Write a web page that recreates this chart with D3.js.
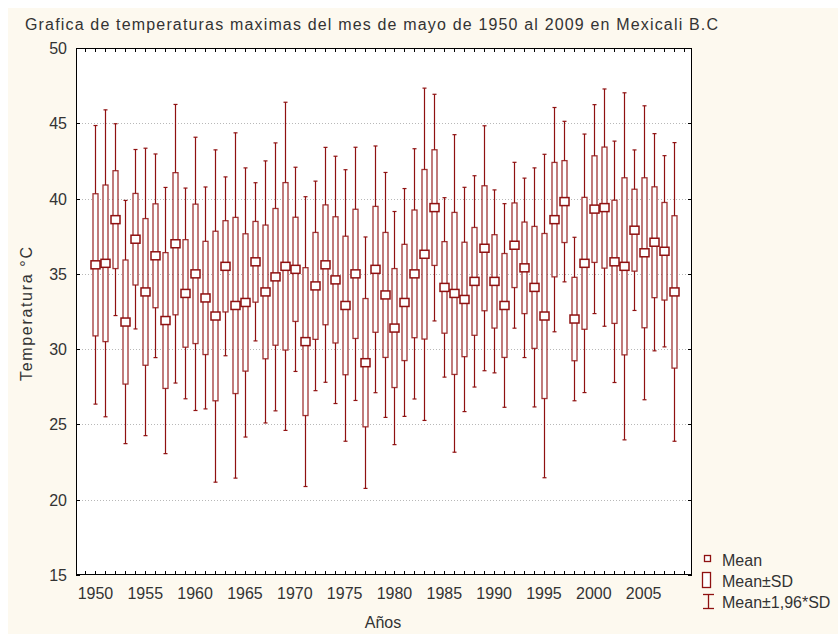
<!DOCTYPE html>
<html><head><meta charset="utf-8">
<script src="https://cdn.jsdelivr.net/npm/d3@7"></script>
<style>
html,body{margin:0;padding:0;background:#fff;}
svg text{font-family:"Liberation Sans",Arial,sans-serif;fill:#333;}
</style></head>
<body>
<svg id="chart" width="838" height="634"></svg>
<script>
const years = d3.range(1950, 2009);
const means = [35.6,35.7,38.6,31.8,37.3,33.8,36.2,31.9,37.0,33.7,
               35.0,33.4,32.2,35.5,32.9,33.1,35.8,33.8,34.8,35.5,
               35.3,30.5,34.2,35.6,34.6,32.9,35.0,29.1,35.3,33.6,
               31.4,33.1,35.0,36.3,39.4,34.1,33.7,33.3,34.5,36.7,
               34.5,32.9,36.9,35.4,34.1,32.2,38.6,39.8,32.0,35.7,
               39.3,39.4,35.8,35.5,37.9,36.4,37.1,36.5,33.8];
const sds   = [4.72,5.20,3.25,4.12,3.04,4.87,3.45,4.51,4.72,3.57,
               4.63,3.76,5.63,3.03,5.85,4.56,2.68,4.44,4.54,5.56,
               3.46,4.91,3.55,3.98,4.19,4.60,4.29,4.26,4.18,4.15,
               3.95,3.86,4.24,5.63,3.84,3.04,5.38,3.80,3.58,4.15,
               3.10,3.45,2.81,3.04,4.05,5.48,3.80,2.72,2.77,4.38,
               3.54,4.02,4.09,5.88,2.72,4.98,3.68,3.24,5.06];
const yTicks = [15,20,25,30,35,40,45,50];
const xTicks = [1950,1955,1960,1965,1970,1975,1980,1985,1990,1995,2000,2005];
const legendLabels = ["Mean","Mean\u00b1SD","Mean\u00b11,96*SD"];
const titleText = "Grafica de temperaturas maximas del mes de mayo de 1950 al 2009 en Mexicali B.C";

const red = "#8f1111";
const svg = d3.select("#chart");
svg.append("rect").attr("x",8).attr("y",8).attr("width",830).attr("height",626).attr("fill","#fdf9ef");

const L=76, R=692, T=48, B=575;
const x = d3.scaleLinear().domain([1948,2010]).range([75.5,693.5]);
const y = d3.scaleLinear().domain([15,50]).range([B,T]);

svg.append("rect").attr("x",L).attr("y",T).attr("width",R-L).attr("height",B-T).attr("fill","#fff");

// grid
svg.append("g").selectAll("line").data(yTicks.filter(v=>v>15&&v<50)).join("line")
  .attr("x1",L).attr("x2",R).attr("y1",d=>Math.round(y(d))+0.5).attr("y2",d=>Math.round(y(d))+0.5)
  .attr("stroke","#b8b8b8").attr("stroke-dasharray","1,2").attr("stroke-width",1);

// ticks on all sides (inward)
const minor = d3.range(1949,2010);
svg.append("g").selectAll("line").data(minor).join("line")
  .attr("x1",d=>Math.round(x(d))+0.5).attr("x2",d=>Math.round(x(d))+0.5)
  .attr("y1",B).attr("y2",B-4).attr("stroke","#000");
svg.append("g").selectAll("line").data(minor).join("line")
  .attr("x1",d=>Math.round(x(d))+0.5).attr("x2",d=>Math.round(x(d))+0.5)
  .attr("y1",T).attr("y2",T+4).attr("stroke","#000");
svg.append("g").selectAll("line").data(yTicks).join("line")
  .attr("x1",L).attr("x2",L+4).attr("y1",d=>Math.round(y(d))+0.5).attr("y2",d=>Math.round(y(d))+0.5).attr("stroke","#000");
svg.append("g").selectAll("line").data(yTicks).join("line")
  .attr("x1",R-4).attr("x2",R).attr("y1",d=>Math.round(y(d))+0.5).attr("y2",d=>Math.round(y(d))+0.5).attr("stroke","#000");

// axis labels
svg.append("g").selectAll("text").data(yTicks).join("text")
  .attr("x",67).attr("y",d=>y(d)+6).attr("text-anchor","end").attr("font-size",16).text(d=>d);
svg.append("g").selectAll("text").data(xTicks).join("text")
  .attr("x",d=>x(d)).attr("y",599).attr("text-anchor","middle").attr("font-size",16).text(d=>d);

// data
const data = years.map((yr,i)=>({yr, m:means[i], sd:sds[i]}));
const g = svg.append("g");
const bw = 5;
data.forEach(d=>{
  const cx = Math.round(x(d.yr))+0.5;
  const wt = y(d.m+1.96*d.sd), wb = y(d.m-1.96*d.sd);
  g.append("line").attr("x1",cx).attr("x2",cx).attr("y1",wt).attr("y2",wb).attr("stroke",red).attr("stroke-width",1.2);
  g.append("line").attr("x1",cx-2).attr("x2",cx+2).attr("y1",wt).attr("y2",wt).attr("stroke",red).attr("stroke-width",1.2);
  g.append("line").attr("x1",cx-2).attr("x2",cx+2).attr("y1",wb).attr("y2",wb).attr("stroke",red).attr("stroke-width",1.2);
  g.append("rect").attr("x",cx-bw/2).attr("y",y(d.m+d.sd)).attr("width",bw).attr("height",y(d.m-d.sd)-y(d.m+d.sd))
    .attr("fill","#fff").attr("stroke",red).attr("stroke-width",1.3).attr("stroke-opacity",0.85);
  g.append("rect").attr("x",cx-4.5).attr("y",y(d.m)-4).attr("width",9).attr("height",8)
    .attr("fill","#fff").attr("stroke",red).attr("stroke-width",1.5);
});

// frame
svg.append("rect").attr("x",L+0.5).attr("y",T+0.5).attr("width",R-L-1).attr("height",B-T-1)
  .attr("fill","none").attr("stroke","#000").attr("stroke-width",1);

// titles
svg.append("text").attr("x",25).attr("y",30).attr("font-size",16)
  .attr("textLength",693).attr("lengthAdjust","spacing").text(titleText);
svg.append("text").attr("x",383).attr("y",628).attr("text-anchor","middle").attr("font-size",16).text("Años");
svg.append("text").attr("transform","translate(32,314) rotate(-90)").attr("text-anchor","middle").attr("font-size",16)
  .attr("textLength",134).attr("lengthAdjust","spacing").text("Temperatura °C");

// legend
const lg = svg.append("g");
lg.append("rect").attr("x",704.5).attr("y",555.5).attr("width",6).attr("height",6).attr("fill","#fff").attr("stroke",red).attr("stroke-width",1.3);
lg.append("rect").attr("x",702.5).attr("y",572.5).attr("width",8).attr("height",15).attr("fill","#fff").attr("stroke",red).attr("stroke-width",1.3);
lg.append("line").attr("x1",708.5).attr("x2",708.5).attr("y1",594).attr("y2",609).attr("stroke",red).attr("stroke-width",1.3);
lg.append("line").attr("x1",703).attr("x2",714).attr("y1",594.5).attr("y2",594.5).attr("stroke",red).attr("stroke-width",1.3);
lg.append("line").attr("x1",703).attr("x2",714).attr("y1",608.5).attr("y2",608.5).attr("stroke",red).attr("stroke-width",1.3);
lg.selectAll("text").data(legendLabels).join("text")
  .attr("x",722).attr("y",(d,i)=>[566,587,608][i]).attr("font-size",16).text(d=>d);
</script>
</body></html>
